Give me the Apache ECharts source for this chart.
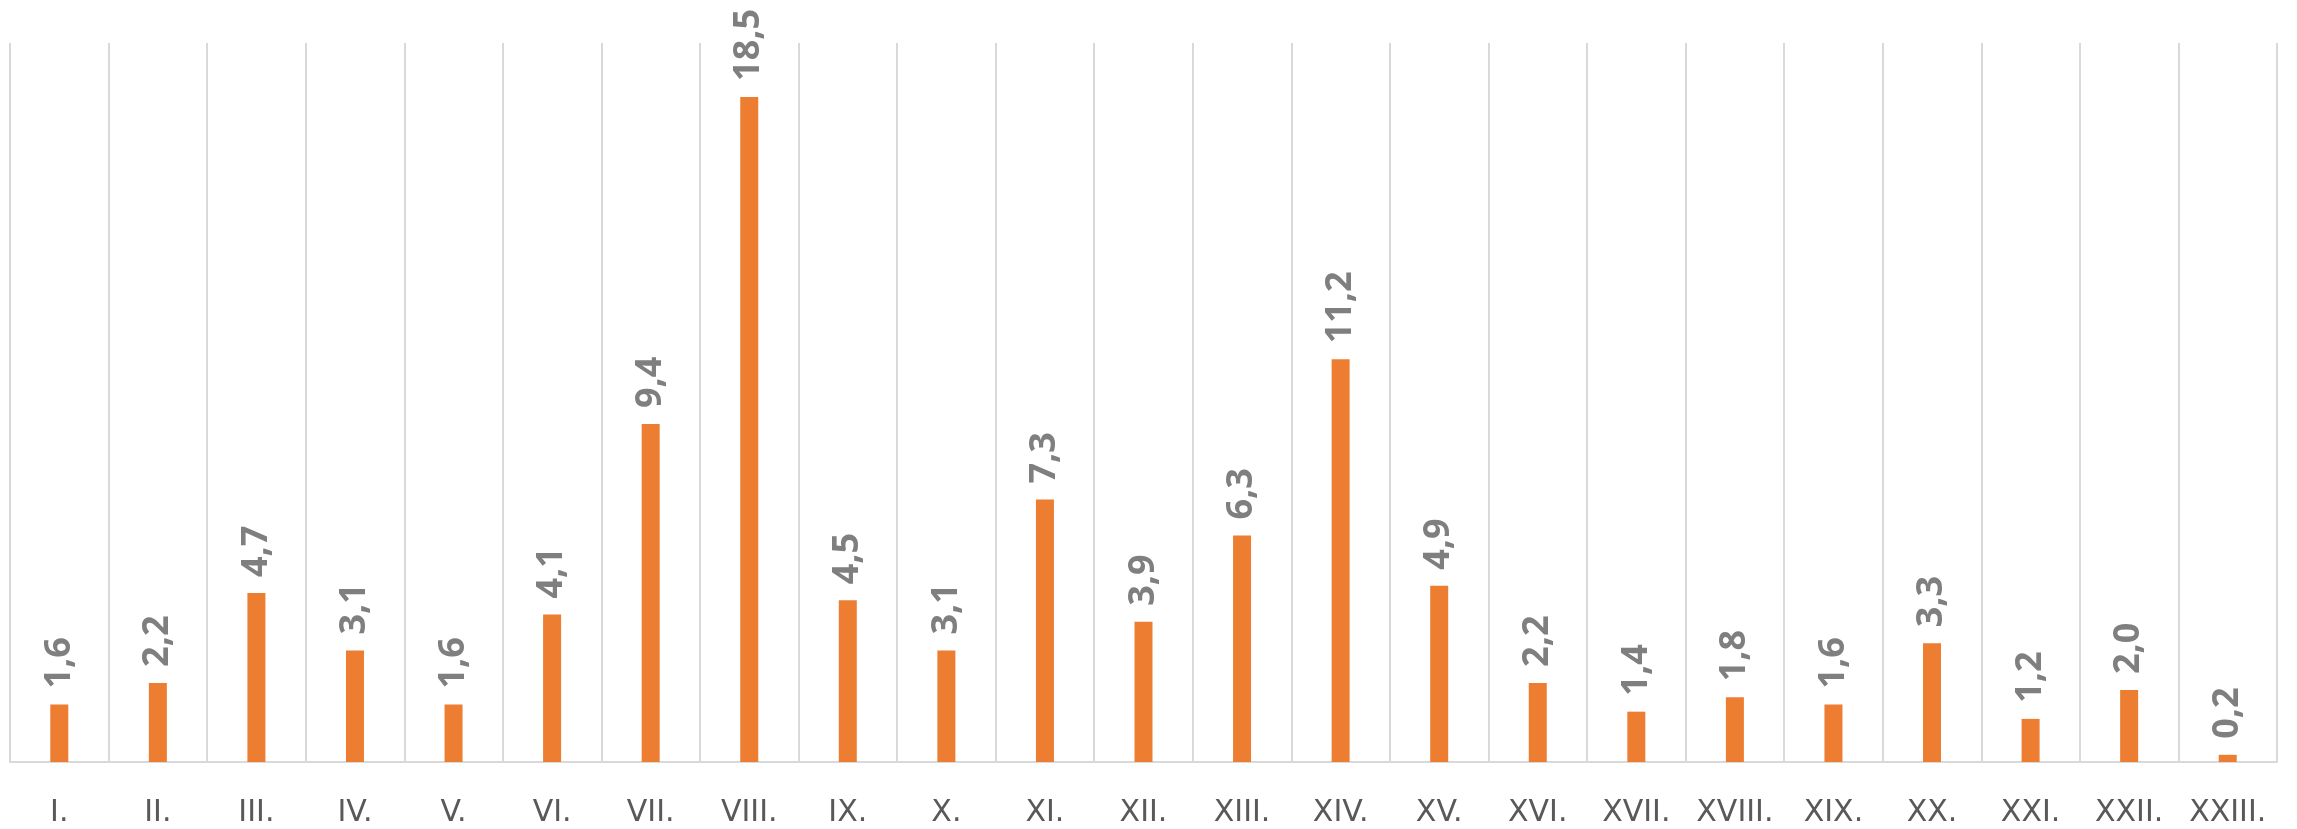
<!DOCTYPE html>
<html>
<head>
<meta charset="utf-8">
<script src="https://cdn.jsdelivr.net/npm/echarts@6/dist/echarts.min.js"></script>
<style>
  html, body { margin: 0; padding: 0; background: #fff; }
  #chart { width: 2297px; height: 829px; }
</style>
</head>
<body>
<div id="chart"></div>
<script>
const categories = ['I.', 'II.', 'III.', 'IV.', 'V.', 'VI.', 'VII.', 'VIII.', 'IX.', 'X.', 'XI.', 'XII.',
  'XIII.', 'XIV.', 'XV.', 'XVI.', 'XVII.', 'XVIII.', 'XIX.', 'XX.', 'XXI.', 'XXII.', 'XXIII.'];
const values = [1.6, 2.2, 4.7, 3.1, 1.6, 4.1, 9.4, 18.5, 4.5, 3.1, 7.3, 3.9,
  6.3, 11.2, 4.9, 2.2, 1.4, 1.8, 1.6, 3.3, 1.2, 2.0, 0.2];

const chart = echarts.init(document.getElementById('chart'));
chart.setOption({
  animation: false,
  grid: { left: 10, right: 20, top: 43, bottom: 67, containLabel: false },
  xAxis: {
    type: 'category',
    data: categories,
    axisLine: { show: true, lineStyle: { color: '#d9d9d9', width: 2 } },
    axisTick: { show: false },
    axisLabel: { interval: 0, margin: 36, color: '#595959', fontSize: 30, fontFamily: 'DejaVu Sans' },
    splitLine: { show: true, interval: 0, lineStyle: { color: '#d9d9d9', width: 2 } }
  },
  yAxis: {
    type: 'value',
    min: 0, max: 20,
    show: false,
    splitLine: { show: false }
  },
  series: [{
    type: 'bar',
    data: values,
    barWidth: 18,
    itemStyle: { color: '#ED7D31' },
    label: {
      show: true,
      position: 'top',
      rotate: 90,
      align: 'left',
      verticalAlign: 'middle',
      distance: 16,
      color: '#7f7f7f',
      fontWeight: 'bold',
      fontSize: 36,
      fontFamily: 'Open Sans',
      formatter: p => p.value.toFixed(1).replace('.', ',')
    }
  }]
});
</script>
</body>
</html>
